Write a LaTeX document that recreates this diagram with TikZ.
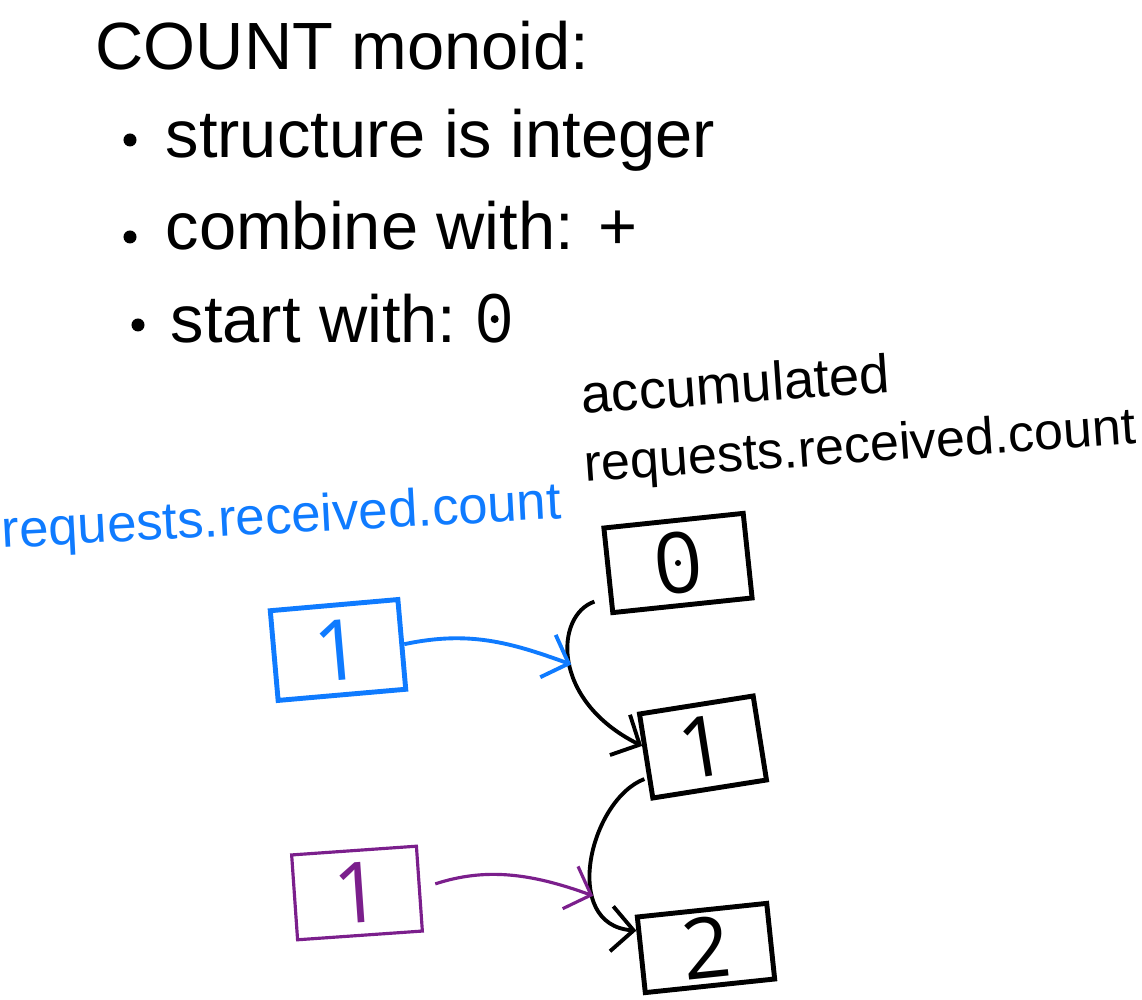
\documentclass[tikz,border=0pt]{standalone}
\usepackage{fontspec}
\setmainfont{Liberation Sans}
\newfontfamily\digitfont{Open Sans}
\usetikzlibrary{arrows.meta}
\definecolor{inkblue}{HTML}{0F7BFF}
\definecolor{inkpurple}{HTML}{7B1F8C}
\newcommand{\hand}[1]{\fontsize{#1}{#1}\selectfont}

\begin{document}
\begin{tikzpicture}[x=0.01cm, y=0.01cm]
\tikzstyle{every node}+=[inner sep=0pt]
\tikzstyle{notes}=[anchor=base west, font=\hand{19}]
\tikzstyle{bulletdot}=[circle, fill=black, minimum size=0.13cm]
\tikzstyle{accbox}=[draw, line width=1.4pt, minimum height=0.85cm, font=\digitfont\hand{24}]
\tikzstyle{flow}=[line width=1.1pt, -{Straight Barb[length=2.2mm,width=4.5mm]}]
\useasboundingbox (0,0) rectangle (1142,1000);
% heading and bullets
\node [notes] (title) at (95,930) {COUNT monoid:};
\node [bulletdot] (d1) at (130,860) {};
\node [notes] (t1) at (165,842) {structure is integer};
\node [bulletdot] (d2) at (130,763) {};
\node [notes] (t2) at (165,750) {combine with: +};
\node [bulletdot] (d3) at (138,675) {};
\node [notes] (t3) at (170,657) {start with:};
\node [notes, font=\digitfont\hand{19}] (z3) at ([xshift=5pt]t3.base east) {0};
\fill (z3.center) circle (4);
% labels
\node [anchor=base west, rotate=4, font=\hand{15.5}] (acclabel) at (582,586) {accumulated};
\node [anchor=base west, rotate=4, font=\hand{14.8}] (accname) at (585,518) {requests.received.count};
\node [anchor=base west, rotate=3, inkblue, font=\hand{15}] (inname) at (2,452) {requests.received.count};
% boxes
\node [accbox, minimum width=1.4cm, rotate=6] (acc0) at (678,437) {0};
\fill (acc0.center) circle (3);
\node [accbox, minimum width=1.15cm, rotate=9] (acc1) at (703,253) {1};
\node [accbox, minimum width=1.3cm, minimum height=0.76cm, rotate=6] (acc2) at (706,52) {2};
\node [accbox, inkblue, minimum width=1.28cm, minimum height=0.9cm, rotate=5] (in1) at (338,350) {1};
\node [accbox, inkpurple, line width=0.9pt, minimum width=1.25cm, rotate=4] (in2) at (357,107) {1};
% connectors
\draw [flow, shorten <=0.15cm] (acc0.200) .. controls (555,385) and (550,300) .. (acc1.170) coordinate [pos=0.52] (m1);
\draw [flow, shorten <=0.03cm] (acc1.200) .. controls (590,200) and (560,75) .. (acc2.160) coordinate [pos=0.68] (m2);
\draw [flow, inkblue] (in1.east) to[out=12, in=160] (m1);
\draw [flow, inkpurple, line width=0.9pt, shorten <=0.15cm] (in2.east) to[out=18, in=160] (m2);
\end{tikzpicture}
\end{document}
